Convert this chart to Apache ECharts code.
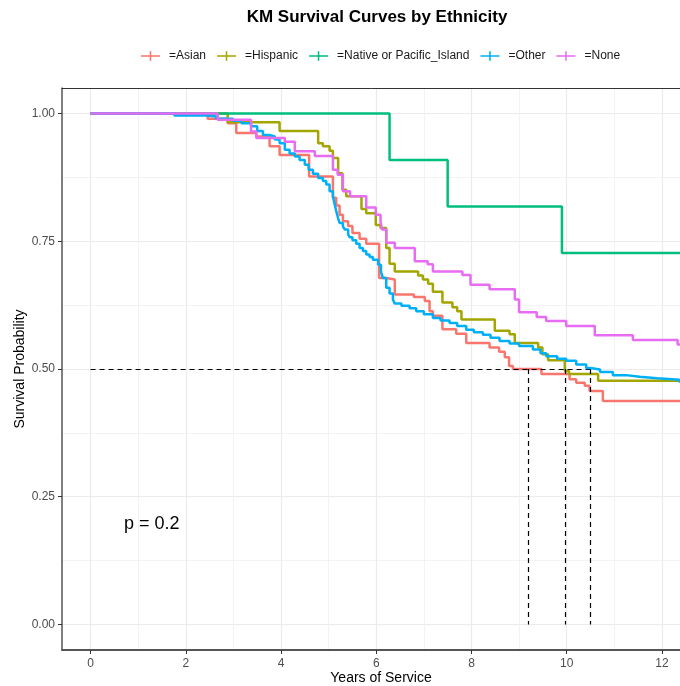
<!DOCTYPE html>
<html>
<head>
<meta charset="utf-8">
<script src="https://cdn.jsdelivr.net/npm/echarts@6/dist/echarts.min.js"></script>
<style>
  html, body { margin: 0; padding: 0; background: #ffffff; }
  #chart { width: 680px; height: 686px; }
</style>
</head>
<body>
<div id="chart"></div>
<script>
// Kaplan-Meier step estimates per group: [years, survival probability]
const groupNames = ['=Asian', '=Hispanic', '=Native or Pacific_Island', '=Other', '=None'];
const groupColors = ['#F8766D', '#A3A500', '#00BF7D', '#00B0F6', '#E76BF3'];

const asian = [
  [0, 1], [2.46, 0.99], [2.88, 0.981], [3.06, 0.962], [3.48, 0.955], [3.76, 0.936],
  [3.97, 0.919], [4.59, 0.877], [5.09, 0.835], [5.16, 0.82], [5.23, 0.802], [5.30, 0.789],
  [5.41, 0.78], [5.5, 0.766], [5.65, 0.755], [5.79, 0.745], [6.06, 0.678], [6.21, 0.675],
  [6.39, 0.646], [6.79, 0.641], [7.02, 0.633], [7.12, 0.613], [7.19, 0.604], [7.39, 0.578],
  [7.68, 0.569], [7.89, 0.551], [8.38, 0.542], [8.58, 0.534], [8.70, 0.523], [8.79, 0.506],
  [8.87, 0.50], [9.47, 0.490], [10.06, 0.480], [10.2, 0.473], [10.38, 0.467], [10.48, 0.457],
  [10.76, 0.4375], [12.5, 0.4375]
];

const hispanic = [
  [0, 1], [2.88, 0.983], [3.97, 0.966], [4.78, 0.942], [4.88, 0.936], [5.02, 0.927],
  [5.09, 0.913], [5.20, 0.883], [5.29, 0.851], [5.37, 0.838], [5.69, 0.813], [5.79, 0.805],
  [5.99, 0.782], [6.09, 0.776], [6.21, 0.737], [6.28, 0.706], [6.39, 0.691], [6.88, 0.683],
  [6.98, 0.675], [7.09, 0.667], [7.19, 0.651], [7.39, 0.630], [7.6, 0.621], [7.7, 0.613],
  [7.79, 0.597], [8.49, 0.575], [8.8, 0.568], [8.91, 0.551], [9.40, 0.542], [9.49, 0.529],
  [9.61, 0.517], [9.96, 0.496], [10.05, 0.490], [10.66, 0.477], [12.5, 0.477]
];

const nativePacific = [
  [0, 1], [6.28, 0.909], [7.5, 0.818], [9.9, 0.727], [12.5, 0.727]
];

const other = [
  [0, 1], [1.76, 0.996], [2.46, 0.994], [2.64, 0.990], [2.99, 0.986], [3.17, 0.981],
  [3.37, 0.975], [3.5, 0.966], [3.62, 0.958], [3.76, 0.955], [3.87, 0.949], [3.97, 0.942],
  [4.08, 0.929], [4.18, 0.922], [4.29, 0.916], [4.39, 0.909], [4.5, 0.90], [4.58, 0.89],
  [4.67, 0.882], [4.78, 0.874], [4.88, 0.868], [4.95, 0.861], [5.02, 0.848], [5.09, 0.838],
  [5.12, 0.825], [5.16, 0.809], [5.2, 0.795], [5.23, 0.786], [5.3, 0.779], [5.34, 0.773],
  [5.41, 0.764], [5.44, 0.758], [5.5, 0.752], [5.58, 0.745], [5.65, 0.737], [5.72, 0.731],
  [5.79, 0.724], [5.86, 0.719], [5.93, 0.714], [6.04, 0.704], [6.1, 0.690], [6.14, 0.678],
  [6.21, 0.659], [6.28, 0.648], [6.35, 0.636], [6.39, 0.628], [6.53, 0.624], [6.7, 0.619],
  [6.84, 0.613], [7.0, 0.607], [7.19, 0.600], [7.35, 0.595], [7.54, 0.590], [7.7, 0.584],
  [7.89, 0.577], [8.05, 0.572], [8.24, 0.567], [8.4, 0.561], [8.59, 0.555], [8.8, 0.550],
  [9.0, 0.545], [9.29, 0.538], [9.45, 0.531], [9.57, 0.525], [9.8, 0.520], [9.99, 0.516],
  [10.2, 0.509], [10.41, 0.502], [10.5, 0.499], [10.7, 0.494], [10.97, 0.488], [11.25, 0.485],
  [11.53, 0.482], [11.9, 0.479], [12.37, 0.475], [12.5, 0.475]
];

const none = [
  [0, 1], [2.67, 0.988], [3.37, 0.965], [3.48, 0.952], [4.08, 0.945], [4.29, 0.926],
  [4.71, 0.917], [5.09, 0.89], [5.19, 0.88], [5.30, 0.848], [5.45, 0.838], [5.79, 0.816],
  [5.99, 0.802], [6.09, 0.789], [6.12, 0.773], [6.21, 0.747], [6.39, 0.737], [6.81, 0.711],
  [7.08, 0.705], [7.19, 0.691], [7.81, 0.684], [7.98, 0.665], [8.38, 0.656], [8.91, 0.636],
  [9.0, 0.611], [9.37, 0.602], [9.57, 0.594], [9.99, 0.584], [10.59, 0.566], [11.39, 0.557],
  [12.33, 0.548], [12.5, 0.548]
];

// Median survival times (groups reaching 0.5)
const medianTimes = [9.2, 9.96, 10.5];
const medianLevel = 0.5;

const xMajorTicks = [0, 2, 4, 6, 8, 10, 12];
const xMinorTicks = [1, 3, 5, 7, 9, 11];
const yMajorTicks = [0, 0.25, 0.5, 0.75, 1];
const yMinorTicks = [0.125, 0.375, 0.625, 0.875];

const pValueText = 'p = 0.2';
const titleText = 'KM Survival Curves by Ethnicity';

const groupData = [asian, hispanic, nativePacific, other, none];

const chart = echarts.init(document.getElementById('chart'), null, { renderer: 'canvas' });

const FONT = 'Liberation Sans, Arial, sans-serif';
const xMin = -0.6, xMax = 12.8;
const yMin = -0.05, yMax = 1.05;

const legendIcon = 'path://M0,4.2h20v1.6h-20z M9.2,0h1.6v10h-1.6z';

const curveSeries = groupNames.map((name, i) => ({
  name: name,
  type: 'line',
  step: 'end',
  data: groupData[i],
  showSymbol: false,
  symbol: 'none',
  clip: true,
  color: groupColors[i],
  lineStyle: { width: 2.5, color: groupColors[i] },
  emphasis: { disabled: true },
  z: 3 + i
}));

const medianLines = [
  [{ coord: [0, medianLevel] }, { coord: [Math.max(...medianTimes), medianLevel] }]
].concat(medianTimes.map(t => [{ coord: [t, medianLevel] }, { coord: [t, 0] }]));

const medianSeries = {
  name: 'median',
  type: 'line',
  data: [],
  silent: true,
  z: 2,
  markLine: {
    silent: true,
    symbol: ['none', 'none'],
    label: { show: false },
    lineStyle: { color: '#000000', type: [5, 4], width: 1.2 },
    emphasis: { disabled: true },
    data: medianLines
  }
};

const option = {
  backgroundColor: '#ffffff',
  animation: false,
  textStyle: { fontFamily: FONT },
  graphic: [
    {
      type: 'text',
      x: 377, y: 17,
      style: {
        text: titleText,
        font: 'bold 17px ' + FONT,
        fill: '#000000',
        align: 'center',
        verticalAlign: 'middle'
      }
    },
    {
      type: 'text',
      x: 124, y: 524,
      z: 10,
      style: {
        text: pValueText,
        font: '18px ' + FONT,
        fill: '#000000',
        align: 'left',
        verticalAlign: 'middle'
      }
    }
  ],
  legend: {
    data: groupNames,
    left: 141,
    top: 50,
    padding: 0,
    itemWidth: 19,
    itemHeight: 10,
    itemGap: 11,
    icon: legendIcon,
    selectedMode: false,
    textStyle: { fontSize: 12, color: '#1a1a1a', fontFamily: FONT, padding: [0, 0, 0, 4] }
  },
  grid: {
    left: 62,
    right: -20,
    top: 88,
    bottom: 36,
    show: false,
    outerBoundsMode: 'none',
    containLabel: false
  },
  xAxis: [
    {
      type: 'value',
      min: xMin,
      max: xMax,
      name: 'Years of Service',
      nameLocation: 'middle',
      nameGap: 21,
      nameMoveOverlap: false,
      nameTextStyle: { fontSize: 14, color: '#000000', fontFamily: FONT },
      axisLine: { show: true, onZero: false, lineStyle: { color: '#555555', width: 1.8 } },
      axisTick: { show: true, length: 4, customValues: xMajorTicks, lineStyle: { color: '#333333', width: 1 } },
      axisLabel: { customValues: xMajorTicks, margin: 8, fontSize: 12, color: '#4d4d4d', fontFamily: FONT },
      splitLine: { show: true, lineStyle: { color: '#ebebeb', width: 1.2 } },
      minorSplitLine: { show: false },
      z: 1
    },
    {
      // minor verticals plus the panel's top border
      type: 'value',
      min: xMin,
      max: xMax,
      position: 'top',
      axisLine: { show: true, onZero: false, lineStyle: { color: '#333333', width: 1 } },
      axisTick: { show: false, customValues: xMinorTicks },
      axisLabel: { show: false, customValues: xMinorTicks },
      splitLine: { show: true, lineStyle: { color: '#f0f0f0', width: 0.8 } },
      z: 1
    }
  ],
  yAxis: [
    {
      type: 'value',
      min: yMin,
      max: yMax,
      name: 'Survival Probability',
      nameLocation: 'middle',
      nameGap: 35,
      nameMoveOverlap: false,
      nameTextStyle: { fontSize: 14, color: '#000000', fontFamily: FONT },
      axisLine: { show: true, onZero: false, lineStyle: { color: '#555555', width: 1.5 } },
      axisTick: { show: true, length: 4, customValues: yMajorTicks, lineStyle: { color: '#333333', width: 1 } },
      axisLabel: {
        customValues: yMajorTicks,
        margin: 7,
        fontSize: 12,
        color: '#4d4d4d',
        fontFamily: FONT,
        formatter: v => v.toFixed(2)
      },
      splitLine: { show: true, lineStyle: { color: '#ebebeb', width: 1.2 } },
      z: 1
    },
    {
      type: 'value',
      min: yMin,
      max: yMax,
      position: 'left',
      axisLine: { show: false },
      axisTick: { show: false, customValues: yMinorTicks },
      axisLabel: { show: false, customValues: yMinorTicks },
      splitLine: { show: true, lineStyle: { color: '#f0f0f0', width: 0.8 } },
      z: 1
    }
  ],
  series: [medianSeries].concat(curveSeries)
};

chart.setOption(option);
</script>
</body>
</html>
